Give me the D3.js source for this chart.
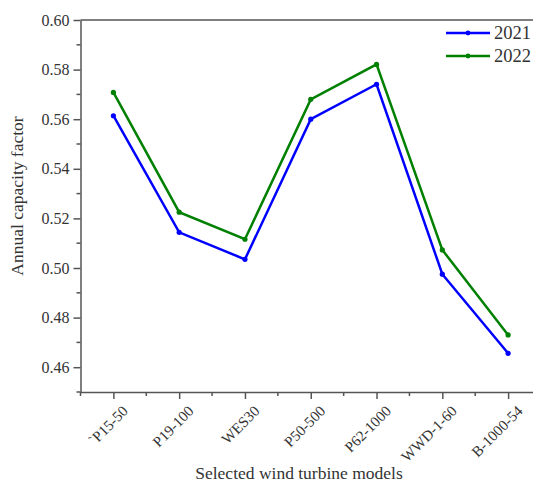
<!DOCTYPE html>
<html><head><meta charset="utf-8">
<script src="https://cdn.jsdelivr.net/npm/d3@7"></script>
<style>body{margin:0;background:#fff} svg text{font-family:"Liberation Serif","DejaVu Serif",serif;}</style>
</head><body>
<svg id="c" width="533" height="485"></svg>
<script>
const categories = ["`P15-50","P19-100","WES30","P50-500","P62-1000","WWD-1-60","B-1000-54"];
const values2021 = [0.5614,0.5144,0.5035,0.5600,0.5741,0.4975,0.4656];
const values2022 = [0.5708,0.5225,0.5116,0.5680,0.5821,0.5073,0.4730];
const yTicks = [0.46,0.48,0.50,0.52,0.54,0.56,0.58,0.60];
const seriesNames = ["2021","2022"];
const colors = ["#0000ff","#008000"];

const svg = d3.select("#c");
const L=80.5, T=20, B=392, R=541;
const x = d3.scaleLinear().domain([-0.5,6.5]).range([L,R]);
const y = d3.scaleLinear().domain([0.45,0.60]).range([B,T]);
const axCol="#555";
const txtCol="#333";

// top line
svg.append("line").attr("x1",L).attr("x2",533).attr("y1",T).attr("y2",T).attr("stroke",axCol).attr("stroke-width",1.5);

// y axis
const ya = svg.append("g").attr("transform",`translate(${L},0)`)
  .call(d3.axisLeft(y).tickValues(yTicks).tickFormat(d3.format(".2f")).tickSize(7).tickSizeOuter(0));
ya.attr("font-family",null).attr("font-size",null);
ya.select(".domain").attr("stroke",axCol).attr("stroke-width",1.5);
ya.selectAll(".tick line").attr("stroke",axCol).attr("stroke-width",1.5);
ya.selectAll("text").style("font-size","16px").attr("fill",txtCol).attr("x",-11);
const yMinor = d3.range(0,8).map(i=>0.45+0.02*i);
svg.append("g").selectAll("line").data(yMinor).join("line")
  .attr("x1",L-4).attr("x2",L).attr("y1",d=>y(d)).attr("y2",d=>y(d)).attr("stroke",axCol).attr("stroke-width",1.5);

// x axis
const xa = svg.append("g").attr("transform",`translate(0,${B})`)
  .call(d3.axisBottom(x).tickValues(d3.range(categories.length)).tickFormat(i=>categories[i]).tickSize(7).tickSizeOuter(0));
xa.attr("font-family",null).attr("font-size",null);
xa.select(".domain").attr("stroke",axCol).attr("stroke-width",1.5);
xa.selectAll(".tick line").attr("stroke",axCol).attr("stroke-width",1.5);
xa.selectAll("text").style("font-size","15px").attr("fill",txtCol)
  .attr("text-anchor","end").attr("dy",null).attr("y",0).attr("x",0).attr("transform","translate(15,20) rotate(-45)");
svg.append("g").selectAll("line").data(d3.range(-0.5,7,1)).join("line")
  .attr("x1",d=>x(d)).attr("x2",d=>x(d)).attr("y1",B).attr("y2",B+4).attr("stroke",axCol).attr("stroke-width",1.5);

// titles
svg.append("text").attr("x",299).attr("y",479).attr("text-anchor","middle").style("font-size","17.5px").attr("fill",txtCol).text("Selected wind turbine models");
svg.append("text").attr("transform","translate(23,196) rotate(-90)").attr("text-anchor","middle").style("font-size","17.5px").attr("fill",txtCol).text("Annual capacity factor");

// lines
const series=[values2021,values2022];
const line = d3.line().x((d,i)=>x(i)).y(d=>y(d));
series.forEach((s,k)=>{
  svg.append("path").datum(s).attr("d",line).attr("fill","none").attr("stroke",colors[k]).attr("stroke-width",2.5).attr("stroke-linejoin","miter");
  svg.append("g").selectAll("circle").data(s).join("circle").attr("cx",(d,i)=>x(i)).attr("cy",d=>y(d)).attr("r",2.6).attr("fill",colors[k]);
});

// legend
seriesNames.forEach((n,k)=>{
  const ly = 33 + k*23;
  svg.append("line").attr("x1",446).attr("x2",490).attr("y1",ly).attr("y2",ly).attr("stroke",colors[k]).attr("stroke-width",2.5);
  svg.append("circle").attr("cx",468).attr("cy",ly).attr("r",2.4).attr("fill",colors[k]);
  svg.append("text").attr("x",494).attr("y",ly+6).style("font-size","18.5px").attr("fill",txtCol).text(n);
});
</script>
</body></html>
